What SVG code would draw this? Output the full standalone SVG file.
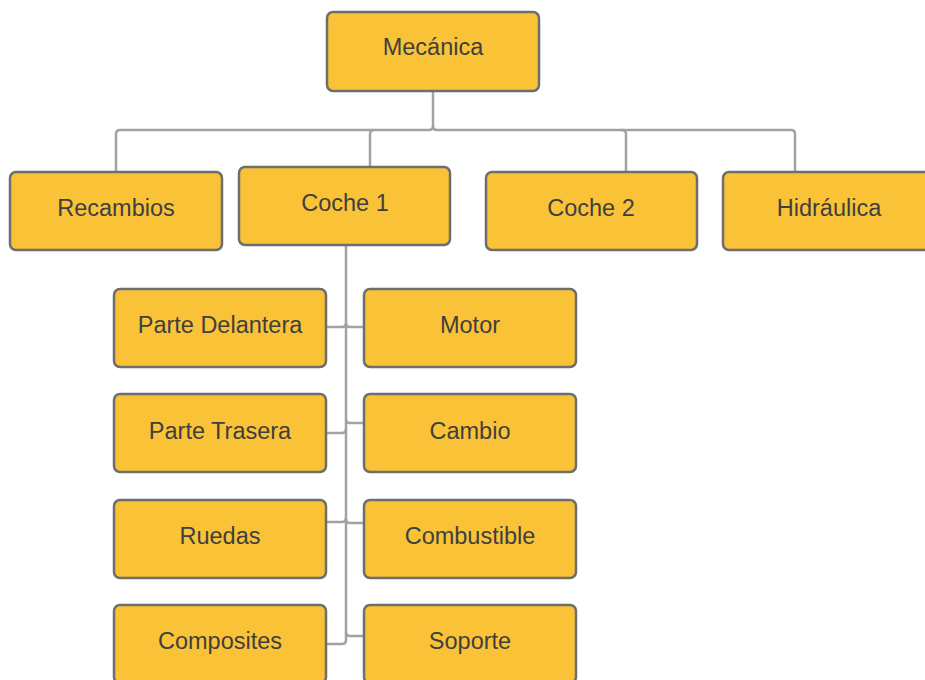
<svg xmlns="http://www.w3.org/2000/svg" width="925" height="680" viewBox="0 0 925 680">
<style>
.n rect{fill:#fac337;stroke:#6e6e6e;stroke-width:2.5}
.n text{font-family:"Liberation Sans",Arial,sans-serif;font-size:23.5px;fill:#3f3f3f;text-anchor:middle;dominant-baseline:central}
.c path{fill:none;stroke:#a2a2a2;stroke-width:2.5}
</style>
<rect width="925" height="680" fill="#fff"/>
<g class="c" id="connectors">
<path d="M433 91 V126 Q433 130 429 130 H120 Q116 130 116 134 V172"/>
<path d="M433 126 Q433 130 437 130 H791 Q795 130 795 134 V172"/>
<path d="M374 130 Q370 130 370 134 V167"/>
<path d="M622 130 Q626 130 626 134 V172"/>
<path d="M346 245 V640"/>
<path d="M326 327 H342 Q346 327 346 323"/>
<path d="M364 327 H350 Q346 327 346 323"/>
<path d="M326 433 H342 Q346 433 346 429"/>
<path d="M364 423 H350 Q346 423 346 419"/>
<path d="M326 522 H342 Q346 522 346 518"/>
<path d="M364 523 H350 Q346 523 346 519"/>
<path d="M326 644 H342 Q346 644 346 640"/>
<path d="M364 636 H350 Q346 636 346 632"/>
</g>
<g class="n" id="mecanica"><rect x="327" y="12" width="212" height="79" rx="6"/><text x="433" y="47">Mecánica</text></g>
<g class="n" id="recambios"><rect x="10" y="172" width="212" height="78" rx="6"/><text x="116" y="208">Recambios</text></g>
<g class="n" id="coche1"><rect x="239" y="167" width="211" height="78" rx="6"/><text x="345" y="203">Coche 1</text></g>
<g class="n" id="coche2"><rect x="486" y="172" width="211" height="78" rx="6"/><text x="591" y="208">Coche 2</text></g>
<g class="n" id="hidraulica"><rect x="723" y="172" width="212" height="78" rx="6"/><text x="829" y="208">Hidráulica</text></g>
<g class="n" id="parte-delantera"><rect x="114" y="289" width="212" height="78" rx="6"/><text x="220" y="325">Parte Delantera</text></g>
<g class="n" id="motor"><rect x="364" y="289" width="212" height="78" rx="6"/><text x="470" y="325">Motor</text></g>
<g class="n" id="parte-trasera"><rect x="114" y="394" width="212" height="78" rx="6"/><text x="220" y="431">Parte Trasera</text></g>
<g class="n" id="cambio"><rect x="364" y="394" width="212" height="78" rx="6"/><text x="470" y="431">Cambio</text></g>
<g class="n" id="ruedas"><rect x="114" y="500" width="212" height="78" rx="6"/><text x="220" y="536">Ruedas</text></g>
<g class="n" id="combustible"><rect x="364" y="500" width="212" height="78" rx="6"/><text x="470" y="536">Combustible</text></g>
<g class="n" id="composites"><rect x="114" y="605" width="212" height="78" rx="6"/><text x="220" y="641">Composites</text></g>
<g class="n" id="soporte"><rect x="364" y="605" width="212" height="78" rx="6"/><text x="470" y="641">Soporte</text></g>
</svg>
